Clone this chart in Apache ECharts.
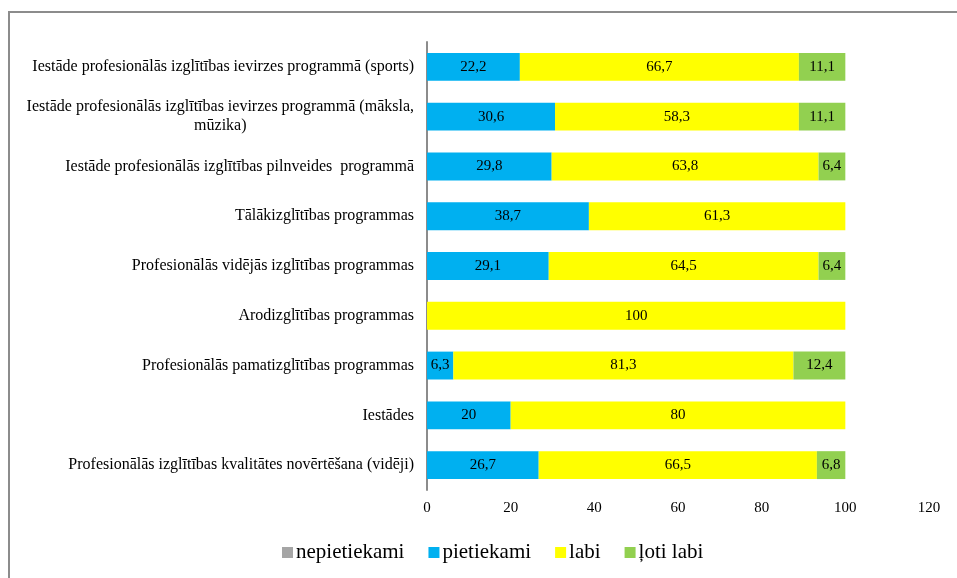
<!DOCTYPE html>
<html>
<head>
<meta charset="utf-8">
<script src="https://cdn.jsdelivr.net/npm/echarts@6/dist/echarts.min.js"></script>
<style>
  html, body { margin: 0; padding: 0; background: #fff; }
  #chart { width: 957px; height: 578px; }
</style>
</head>
<body>
<div id="chart"></div>
<script>
// kategorijas no augšas uz leju
const categories = [
  'Iestāde profesionālās izglītības ievirzes programmā (sports)',
  'Iestāde profesionālās izglītības ievirzes programmā (māksla,\nmūzika)',
  'Iestāde profesionālās izglītības pilnveides  programmā',
  'Tālākizglītības programmas',
  'Profesionālās vidējās izglītības programmas',
  'Arodizglītības programmas',
  'Profesionālās pamatizglītības programmas',
  'Iestādes',
  'Profesionālās izglītības kvalitātes novērtēšana (vidēji)'
]
const nepietiekami = [0, 0, 0, 0, 0, 0, 0, 0, 0]
const pietiekami = [22.2, 30.6, 29.8, 38.7, 29.1, 0, 6.3, 20, 26.7]
const labi = [66.7, 58.3, 63.8, 61.3, 64.5, 100, 81.3, 80, 66.5]
const lotiLabi = [11.1, 11.1, 6.4, 0, 6.4, 0, 12.4, 0, 6.8]
const xTicks = [0, 20, 40, 60, 80, 100, 120]

const font = '"Liberation Serif", "Times New Roman", serif'

function makeSeries (name, data, color) {
  return {
    name: name,
    type: 'bar',
    stack: 'total',
    barCategoryGap: '44%',
    data: data,
    itemStyle: { color: color },
    label: {
      show: true,
      position: 'inside',
      color: '#000',
      fontFamily: font,
      fontSize: 15,
      formatter: function (p) {
        return p.value ? String(p.value).replace('.', ',') : ''
      }
    }
  }
}

let myChart = echarts.init(document.getElementById('chart'))
myChart.setOption({
  animation: false,
  textStyle: { fontFamily: font },
  graphic: [{
    type: 'rect',
    shape: { x: 9, y: 12, width: 1000, height: 1000 },
    style: { fill: 'none', stroke: '#8c8c8c', lineWidth: 2 },
    silent: true
  }],
  grid: { left: 427, right: 28, top: 42, bottom: 88 },
  legend: {
    bottom: 10,
    left: 277,
    itemWidth: 11,
    itemHeight: 11,
    itemGap: 24,
    icon: 'rect',
    textStyle: { fontFamily: font, fontSize: 21, color: '#000', padding: [0, 0, 0, -2] },
    data: ['nepietiekami', 'pietiekami', 'labi', 'ļoti labi']
  },
  xAxis: {
    type: 'value',
    min: xTicks[0],
    max: xTicks[xTicks.length - 1],
    interval: 20,
    axisLine: { show: false },
    axisTick: { show: false },
    splitLine: { show: false },
    axisLabel: { color: '#000', fontFamily: font, fontSize: 15, margin: 11 }
  },
  yAxis: {
    type: 'category',
    inverse: true,
    data: categories,
    axisLine: { show: true, lineStyle: { color: '#8c8c8c', width: 2 } },
    axisTick: { show: false },
    axisLabel: {
      color: '#000',
      fontFamily: font,
      fontSize: 16,
      margin: 13,
      align: 'right',
      // otrā rinda centrēta pret pirmo
      formatter: function (v) {
        return v.split('\n').map(function (s) { return '{c|' + s + '}' }).join('\n')
      },
      rich: {
        c: { align: 'center', fontFamily: font, fontSize: 16, lineHeight: 19, color: '#000' }
      }
    }
  },
  series: [
    makeSeries('nepietiekami', nepietiekami, '#a5a5a5'),
    makeSeries('pietiekami', pietiekami, '#00b0f0'),
    makeSeries('labi', labi, '#ffff00'),
    makeSeries('ļoti labi', lotiLabi, '#92d050')
  ]
})
</script>
</body>
</html>
